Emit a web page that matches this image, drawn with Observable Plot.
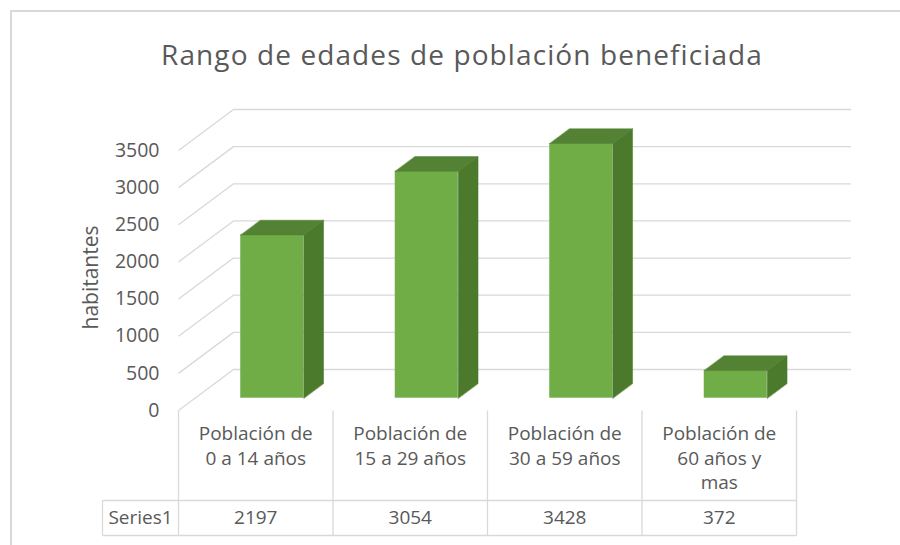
<!DOCTYPE html>
<html>
<head>
<meta charset="utf-8">
<script src="https://cdn.jsdelivr.net/npm/d3@7"></script>
<script src="https://cdn.jsdelivr.net/npm/@observablehq/plot@0.6"></script>
<style>
  body { margin: 0; background: #fff; font-family: "Open Sans", sans-serif; }
  #wrap { position: relative; width: 900px; height: 545px; overflow: hidden; }
  #frame { position: absolute; left: 10px; top: 10px; width: 900px; height: 545px;
           border-left: 2px solid #d9d9d9; border-top: 2px solid #d9d9d9; box-sizing: border-box; }
  #title { position: relative; height: 90px; box-sizing: border-box; padding-top: 37px; padding-left: 24px;
           text-align: center; font-size: 28px; line-height: 34px; letter-spacing: 1.1px; color: #595959; white-space: nowrap; }
  #chart { position: relative; }
  #chart svg { display: block; }
</style>
</head>
<body>
<div id="wrap">
  <div id="frame"></div>
  <div id="title"></div>
  <div id="chart"></div>
</div>
<script>
// ---- data ----
const titleText = "Rango de edades de población beneficiada";
const yLabel = "habitantes";
const seriesName = "Series1";
const categories = [
  "Población de\n0 a 14 años",
  "Población de\n15 a 29 años",
  "Población de\n30 a 59 años",
  "Población de\n60 años y\nmas"
];
const values = [2197, 3054, 3428, 372];
const yTicks = [0, 500, 1000, 1500, 2000, 2500, 3000, 3500];

// ---- layout / style ----
const W = 900, H = 455;
const mL = 178, mR = 104, mT = 60, mB = 135;
const yMax = 3500;
const xPerPx = categories.length / (W - mL - mR);
const yPerPx = yMax / (H - mT - mB);
const depthPx = [55, 41];        // pixel offset from front plane to back wall
const t0 = 0.3, t1 = 0.66;       // bar depth span
const barHalfPx = 31.5;
const grid = "#d9d9d9", textCol = "#595959";
const cFront = "#70AD47", cTop = "#548235", cSide = "#4B7A2C";
const tableRowTop = 90, tableBottom = 125, headerW = 76;

function pt(xd, yd, t) {
  return { x: xd + t * depthPx[0] * xPerPx, y: yd + t * depthPx[1] * yPerPx };
}

document.getElementById("title").textContent = titleText;

const bars = values.map((v, i) => ({ i, v, cat: categories[i] }));
const n = categories.length;

// grid
const gridFront = yTicks.map(v => { const a = pt(0, v, 0), b = pt(0, v, 1); return { x1: a.x, y1: a.y, x2: b.x, y2: b.y }; });
const backY = yTicks.map(v => pt(0, v, 1).y);

// bar faces
const hw = barHalfPx * xPerPx;
const frontFaces = bars.map(d => {
  const a = pt(d.i + 0.5 - hw, 0, t0), b = pt(d.i + 0.5 + hw, d.v, t0);
  return { x1: a.x, x2: b.x, y1: a.y, y2: b.y };
});
const topFaces = bars.flatMap(d => {
  const xl = d.i + 0.5 - hw, xr = d.i + 0.5 + hw;
  return [pt(xl, d.v, t0), pt(xr, d.v, t0), pt(xr, d.v, t1), pt(xl, d.v, t1)].map(p => ({ ...p, id: d.i }));
});
const sideFaces = bars.flatMap(d => {
  const xr = d.i + 0.5 + hw;
  return [pt(xr, 0, t0), pt(xr, d.v, t0), pt(xr, d.v, t1), pt(xr, 0, t1)].map(p => ({ ...p, id: d.i }));
});

// table lines
const bounds = d3.range(n + 1);
const tableV = bounds.map(b => ({ x1: b, x2: b, y1: 0, y2: -tableBottom * yPerPx }));
tableV.push({ x1: -headerW * xPerPx, x2: -headerW * xPerPx, y1: -tableRowTop * yPerPx, y2: -tableBottom * yPerPx });
const tableH = [tableRowTop, tableBottom].map(r => ({ x1: -headerW * xPerPx, x2: n, y1: -r * yPerPx, y2: -r * yPerPx }));

const plot = Plot.plot({
  width: W, height: H,
  marginLeft: mL, marginRight: mR, marginTop: mT, marginBottom: mB,
  style: { fontFamily: "'Open Sans', sans-serif", fontSize: "19.5px", color: textCol, background: "transparent", overflow: "visible" },
  x: { type: "linear", domain: [0, n], axis: null },
  y: { domain: [0, yMax], ticks: yTicks, tickFormat: d => String(d), tickSize: 0, tickPadding: 19, label: null },
  marks: [
    Plot.link(gridFront, { x1: "x1", y1: "y1", x2: "x2", y2: "y2", stroke: grid, strokeWidth: 1.3 }),
    Plot.ruleY(backY, { x1: pt(0, 0, 1).x, x2: pt(n, 0, 1).x, stroke: grid, strokeWidth: 1.3 }),
    Plot.rect(frontFaces, { x1: "x1", x2: "x2", y1: "y1", y2: "y2", fill: cFront }),
    Plot.line(topFaces, { x: "x", y: "y", z: "id", fill: cTop, stroke: cTop, strokeWidth: 0.5, curve: "linear-closed" }),
    Plot.line(sideFaces, { x: "x", y: "y", z: "id", fill: cSide, stroke: cSide, strokeWidth: 0.5, curve: "linear-closed" }),
    Plot.link(tableV, { x1: "x1", y1: "y1", x2: "x2", y2: "y2", stroke: grid, strokeWidth: 1.3 }),
    Plot.link(tableH, { x1: "x1", y1: "y1", x2: "x2", y2: "y2", stroke: grid, strokeWidth: 1.3 }),
    Plot.text(bars, { x: d => d.i + 0.5, y: 0, text: "cat", dy: 12, lineAnchor: "top", lineHeight: 1.3, fill: textCol, fontSize: 19 }),
    Plot.text(bars, { x: d => d.i + 0.5, y: 0, text: d => String(d.v), dy: 107, fill: textCol, fontSize: 19 }),
    Plot.text([seriesName], { x: 0, y: 0, text: d => d, dx: -38, dy: 107, fill: textCol, fontSize: 19 }),
    Plot.text([yLabel], { x: 0, y: yMax / 2 + 3 * yPerPx, text: d => d, rotate: -90, dx: -87, fill: textCol, fontSize: 21 })
  ]
});
document.getElementById("chart").appendChild(plot);
</script>
</body>
</html>
